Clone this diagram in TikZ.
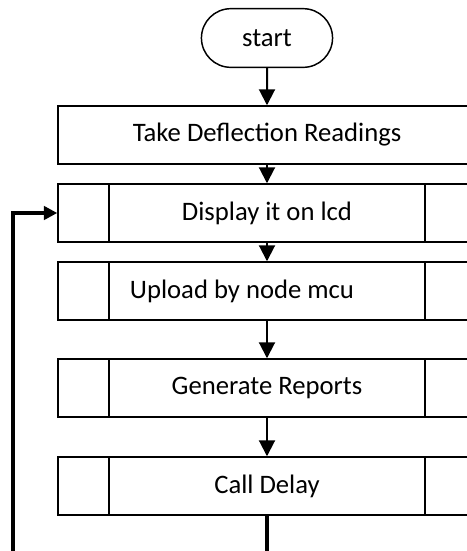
\documentclass[tikz,border=0pt]{standalone}
\usepackage{fontspec}
\setmainfont{Carlito}
\usepackage{tikz}
\usetikzlibrary{positioning}
\usetikzlibrary{shapes.misc}
\usetikzlibrary{arrows.meta}

\begin{document}
\begin{tikzpicture}[x=0.75pt, y=-0.75pt, line width=1.1pt,
    every node/.style={font=\fontsize{20pt}{24pt}\selectfont},
    term/.style={rounded rectangle, draw, minimum width=105pt, minimum height=44pt},
    proc/.style={rectangle, draw, minimum width=313.5pt, minimum height=43.5pt},
    subproc/.style={proc, path picture={
        \draw ([xshift=38.25pt]path picture bounding box.north west) -- ([xshift=38.25pt]path picture bounding box.south west);
        \draw ([xshift=-38.25pt]path picture bounding box.north east) -- ([xshift=-38.25pt]path picture bounding box.south east);
    }},
    flow/.style={-{Triangle[width=12pt,length=12pt]}, line width=1.5pt},
    fback/.style={-{Triangle[width=10pt,length=10pt]}, line width=2.6pt}]
            % Define the page
            \useasboundingbox (0,0) rectangle (467,551);
            % Define the blocks
            \node[term] (start) at (267,38) {start};
            \node[proc] (take) at (267,135) {Take Deflection Readings};
            \node[subproc] (disp) at (267,213) {Display it on lcd};
            \node[subproc] (upl) at (267,291) {Upload by node mcu\hspace*{37.5pt}};
            \node[subproc] (gen) at (267,388) {Generate Reports};
            \node[subproc] (call) at (267,486) {Call Delay};
            % Loose ends at the bottom
            \coordinate (callend) at (267,551);
            \coordinate (loopend) at (13,551);

            % Paths
            \draw[flow] (start) -- (take); % start -> take
            \draw[flow] (take) -- (disp); % take -> disp
            \draw[flow] (disp) -- (upl); % disp -> upl
            \draw[flow] (upl) -- (gen); % upl -> gen
            \draw[flow] (gen) -- (call); % gen -> call
            \draw[line width=2.6pt] (call) -- (callend); % call -> down
            \draw[fback] (loopend) |- (disp.west); % back to disp
\end{tikzpicture}
\end{document}
